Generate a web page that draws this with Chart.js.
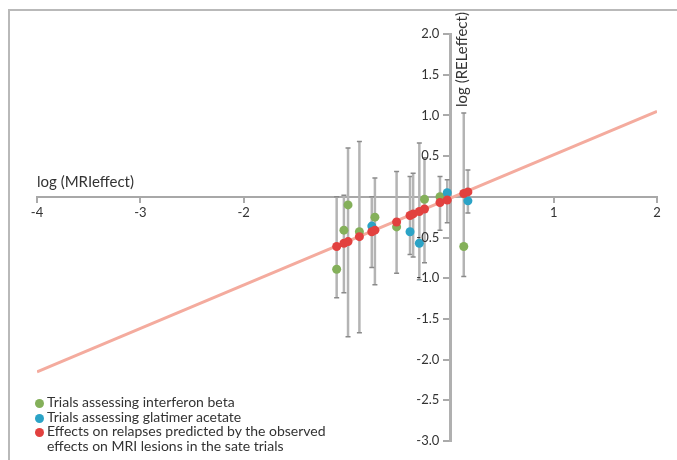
<!DOCTYPE html>
<html>
<head>
<meta charset="utf-8">
<script src="https://cdn.jsdelivr.net/npm/chart.js@4.4.0/dist/chart.umd.min.js"></script>
<style>
  body { margin: 0; background: #fff; }
  #wrap { position: relative; width: 677px; height: 460px; }
  #frame { position: absolute; left: 8px; top: 9px; right: 0; bottom: 0;
           border-top: 2px solid #b9b9b9; border-left: 2px solid #b9b9b9; }
  canvas { position: absolute; left: 0; top: 0; }
  #legend { position: absolute; left: 35px; top: 395px; font-family: Lato, sans-serif;
            font-size: 14px; color: #333; line-height: 14.7px; }
  #legend .dot { display: inline-block; width: 9px; height: 9px; border-radius: 50%;
                 margin-right: 3px; vertical-align: -1px; }
  #legend .indent { padding-left: 12px; }
</style>
</head>
<body>
<div id="wrap">
  <div id="frame"></div>
  <canvas id="myChart" width="677" height="460"></canvas>
  <div id="legend">
    <div><span class="dot" style="background:#84b05a"></span>Trials assessing interferon beta</div>
    <div><span class="dot" style="background:#2ba3c6"></span>Trials assessing glatimer acetate</div>
    <div><span class="dot" style="background:#e2413f"></span>Effects on relapses predicted by the observed</div>
    <div class="indent">effects on MRI lesions in the sate trials</div>
  </div>
</div>
<script>
  // interferon beta trials (green)
  var ifnX    = [-1.10, -1.03, -0.99, -0.88, -0.73, -0.52, -0.25, -0.10, 0.13];
  var ifnY    = [-0.89, -0.41, -0.10, -0.43, -0.25, -0.37, -0.03, 0.00, -0.61];
  var ifnLow  = [-1.24, -1.18, -1.72, -1.67, -1.08, -0.94, -0.81, -0.41, -0.98];
  var ifnHigh = [0.00, 0.02, 0.60, 0.68, 0.23, 0.31, 0.48, 0.25, 1.03];

  // glatiramer acetate trials (blue)
  var gaX    = [-0.76, -0.39, -0.30, -0.36, -0.03, 0.17];
  var gaY    = [-0.36, -0.43, -0.57, null, 0.05, -0.05];
  var gaLow  = [-0.87, -0.71, -1.02, -0.74, -0.32, -0.20];
  var gaHigh = [0.00, 0.25, 0.66, 0.29, 0.21, 0.33];

  // predicted effects on relapses (red)
  var predX = [-1.10, -1.03, -0.99, -0.88, -0.76, -0.73, -0.52, -0.39, -0.36, -0.30, -0.25, -0.10, -0.03, 0.13, 0.17];
  var predY = [-0.61, -0.57, -0.55, -0.49, -0.43, -0.41, -0.31, -0.23, -0.21, -0.18, -0.15, -0.07, -0.04, 0.04, 0.06];

  // regression line end points
  var fitX = [-4, 2];
  var fitY = [-2.15, 1.05];

  var xTickValues = [-4, -3, -2, 1, 2];
  var yTickValues = [2.0, 1.5, 1.0, 0.5, -0.5, -1.0, -1.5, -2.0, -2.5, -3.0];

  var FONT = 'Lato, sans-serif';

  function toPoints(xs, ys) {
    var pts = [];
    for (var i = 0; i < xs.length; i++) {
      if (ys[i] !== null) pts.push({ x: xs[i], y: ys[i] });
    }
    return pts;
  }

  // grey vertical error bars with small caps
  var errorBars = {
    id: 'errorBars',
    beforeDatasetsDraw: function (chart) {
      var ctx = chart.ctx, sx = chart.scales.x, sy = chart.scales.y;
      function draw(xs, lo, hi) {
        for (var i = 0; i < xs.length; i++) {
          var px = sx.getPixelForValue(xs[i]);
          var p1 = sy.getPixelForValue(lo[i]);
          var p2 = sy.getPixelForValue(hi[i]);
          ctx.strokeStyle = '#b4b4b4';
          ctx.lineWidth = 2.5;
          ctx.beginPath();
          ctx.moveTo(px, p1);
          ctx.lineTo(px, p2);
          ctx.stroke();
          ctx.strokeStyle = '#8a8a8a';
          ctx.lineWidth = 1.5;
          ctx.beginPath();
          ctx.moveTo(px - 2.5, p1); ctx.lineTo(px + 2.5, p1);
          ctx.moveTo(px - 2.5, p2); ctx.lineTo(px + 2.5, p2);
          ctx.stroke();
        }
      }
      ctx.save();
      draw(ifnX, ifnLow, ifnHigh);
      draw(gaX, gaLow, gaHigh);
      ctx.restore();
    }
  };

  // axis titles and y tick labels (Chart.js puts centred-axis labels on the line itself)
  var axisText = {
    id: 'axisText',
    afterDraw: function (chart) {
      var ctx = chart.ctx, sx = chart.scales.x, sy = chart.scales.y;
      var x0 = sx.getPixelForValue(0);
      ctx.save();
      ctx.fillStyle = '#333';
      ctx.font = '13px ' + FONT;
      ctx.textAlign = 'right';
      ctx.textBaseline = 'middle';
      yTickValues.forEach(function (v) {
        ctx.fillText(v.toFixed(1), x0 - 11, sy.getPixelForValue(v));
      });
      ctx.font = '15px ' + FONT;
      ctx.textBaseline = 'alphabetic';
      ctx.textAlign = 'left';
      ctx.fillText('log (MRIeffect)', sx.left, sy.getPixelForValue(0) - 10);
      ctx.translate(x0 + 17, 107);
      ctx.rotate(-Math.PI / 2);
      ctx.fillText('log (RELeffect)', 0, 0);
      ctx.restore();
    }
  };

  var ctx = document.getElementById('myChart').getContext('2d');
  var myChart = new Chart(ctx, {
    type: 'scatter',
    data: {
      datasets: [
        { label: 'Predicted', data: toPoints(predX, predY), backgroundColor: '#e2413f',
          borderWidth: 0, pointRadius: 4.5 },
        { label: 'Glatiramer', data: toPoints(gaX, gaY), backgroundColor: '#2ba3c6',
          borderWidth: 0, pointRadius: 4.5 },
        { label: 'Interferon', data: toPoints(ifnX, ifnY), backgroundColor: '#84b05a',
          borderWidth: 0, pointRadius: 4.5 },
        { type: 'line', label: 'Fit', data: toPoints(fitX, fitY), borderColor: '#f4ab9e',
          borderWidth: 3, pointRadius: 0, fill: false }
      ]
    },
    options: {
      responsive: false,
      animation: false,
      layout: { padding: { left: 37, right: 20, top: 34, bottom: 19 } },
      plugins: { legend: { display: false }, tooltip: { enabled: false } },
      scales: {
        x: {
          type: 'linear', min: -4, max: 2, position: { y: 0 },
          afterBuildTicks: function (axis) {
            axis.ticks = xTickValues.map(function (v) { return { value: v }; });
          },
          ticks: { color: '#333', font: { family: FONT, size: 13 }, padding: 3,
                   callback: function (v) { return String(v); } },
          grid: { drawOnChartArea: false, drawTicks: true, tickLength: 5, color: '#aaa', lineWidth: 2 },
          border: { color: '#a8a8a8', width: 2 }
        },
        y: {
          type: 'linear', min: -3, max: 2, position: { x: 0 },
          afterBuildTicks: function (axis) {
            axis.ticks = yTickValues.map(function (v) { return { value: v }; });
          },
          ticks: { display: false },
          grid: { drawOnChartArea: false, drawTicks: true, tickLength: 6, color: '#aaa', lineWidth: 2 },
          border: { color: '#b0b0b0', width: 3 }
        }
      }
    },
    plugins: [errorBars, axisText]
  });
</script>
</body>
</html>
